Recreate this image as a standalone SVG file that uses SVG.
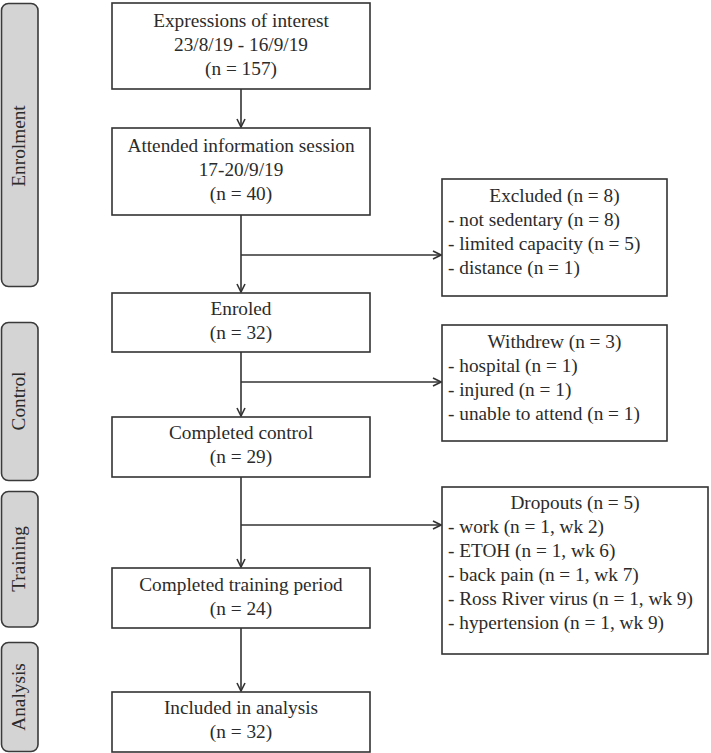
<svg xmlns="http://www.w3.org/2000/svg" width="711" height="753" viewBox="0 0 711 753">
<defs>
<style>
text{font-family:"Liberation Serif","Times New Roman",serif;font-size:19.3px;fill:#2b2b2b}
.c{text-anchor:middle}
.box{fill:#fff;stroke:#333;stroke-width:1.6}
.side{fill:#d4d4d4;stroke:#3a3a3a;stroke-width:1.6}
.ln{fill:none;stroke:#333;stroke-width:1.6}
</style>
<marker id="ah" viewBox="0 0 10 10" refX="9" refY="5" markerWidth="10" markerHeight="10" markerUnits="userSpaceOnUse" orient="auto">
<path d="M1,1 L9,5 L1,9" fill="none" stroke="#333" stroke-width="1.6"/>
</marker>
</defs>
<rect width="711" height="753" fill="#fff"/>

<g id="stage-enrolment">
<rect class="side" x="1.5" y="3.5" width="36.5" height="283" rx="7"/>
<text class="c" transform="translate(25,146) rotate(-90)">Enrolment</text>
</g>
<g id="stage-control">
<rect class="side" x="1.5" y="322.5" width="36.5" height="158" rx="7"/>
<text class="c" transform="translate(25,401) rotate(-90)">Control</text>
</g>
<g id="stage-training">
<rect class="side" x="1.5" y="491.5" width="36.5" height="135.5" rx="7"/>
<text class="c" transform="translate(25,559) rotate(-90)">Training</text>
</g>
<g id="stage-analysis">
<rect class="side" x="1.5" y="642.5" width="36.5" height="109" rx="7"/>
<text class="c" transform="translate(25,697) rotate(-90)">Analysis</text>
</g>

<g id="connectors">
<path class="ln" d="M241,89 V127" marker-end="url(#ah)"/>
<path class="ln" d="M241,215 V292" marker-end="url(#ah)"/>
<path class="ln" d="M241,255 H441" marker-end="url(#ah)"/>
<path class="ln" d="M241,352 V416" marker-end="url(#ah)"/>
<path class="ln" d="M241,382 H441" marker-end="url(#ah)"/>
<path class="ln" d="M241,477 V567" marker-end="url(#ah)"/>
<path class="ln" d="M241,525 H441" marker-end="url(#ah)"/>
<path class="ln" d="M241,628 V691" marker-end="url(#ah)"/>
</g>

<g id="expressions">
<rect class="box" x="112" y="3" width="258" height="86"/>
<text class="c" x="241" y="27">Expressions of interest</text>
<text class="c" x="241" y="51">23/8/19 - 16/9/19</text>
<text class="c" x="241" y="75">(n = 157)</text>
</g>
<g id="attended">
<rect class="box" x="112" y="128" width="258" height="87"/>
<text class="c" x="241" y="152">Attended information session</text>
<text class="c" x="241" y="176">17-20/9/19</text>
<text class="c" x="241" y="200">(n = 40)</text>
</g>
<g id="enroled">
<rect class="box" x="112" y="293" width="258" height="59"/>
<text class="c" x="241" y="315">Enroled</text>
<text class="c" x="241" y="339">(n = 32)</text>
</g>
<g id="completed-control">
<rect class="box" x="112" y="417" width="258" height="60"/>
<text class="c" x="241" y="439">Completed control</text>
<text class="c" x="241" y="463">(n = 29)</text>
</g>
<g id="completed-training">
<rect class="box" x="112" y="568" width="258" height="60"/>
<text class="c" x="241" y="591">Completed training period</text>
<text class="c" x="241" y="615">(n = 24)</text>
</g>
<g id="included">
<rect class="box" x="112" y="692" width="258" height="60"/>
<text class="c" x="241" y="714">Included in analysis</text>
<text class="c" x="241" y="738">(n = 32)</text>
</g>

<g id="excluded">
<rect class="box" x="442" y="179" width="225" height="117"/>
<text class="c" x="554.5" y="202">Excluded (n = 8)</text>
<text x="448" y="226">- not sedentary (n = 8)</text>
<text x="448" y="250">- limited capacity (n = 5)</text>
<text x="448" y="274">- distance (n = 1)</text>
</g>
<g id="withdrew">
<rect class="box" x="442" y="325" width="225" height="116"/>
<text class="c" x="554.5" y="348">Withdrew (n = 3)</text>
<text x="448" y="372">- hospital (n = 1)</text>
<text x="448" y="396">- injured (n = 1)</text>
<text x="448" y="420">- unable to attend (n = 1)</text>
</g>
<g id="dropouts">
<rect class="box" x="442" y="487" width="266" height="167"/>
<text class="c" x="575" y="509">Dropouts (n = 5)</text>
<text x="448" y="533">- work (n = 1, wk 2)</text>
<text x="448" y="557">- ETOH (n = 1, wk 6)</text>
<text x="448" y="581">- back pain (n = 1, wk 7)</text>
<text x="448" y="605">- Ross River virus (n = 1, wk 9)</text>
<text x="448" y="629">- hypertension (n = 1, wk 9)</text>
</g>
</svg>
